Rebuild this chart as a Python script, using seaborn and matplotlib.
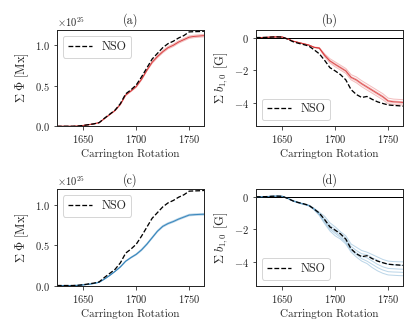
import numpy as np
import pandas as pd
import seaborn as sns
import matplotlib
matplotlib.use("Agg")
import matplotlib.pyplot as plt

# Carrington rotation grid
rotation = [1625, 1630, 1635, 1640, 1645, 1650, 1655, 1660, 1665, 1670, 1675, 1680, 1685, 1690, 1695,
            1700, 1705, 1710, 1715, 1720, 1725, 1730, 1735, 1740, 1745, 1750, 1755, 1760, 1765]

# cumulative unsigned flux [1e25 Mx]
nso_flux = [0.0, 0.0, 0.0, 0.0, 0.003, 0.01, 0.02, 0.03, 0.045, 0.10, 0.15, 0.20, 0.28, 0.40, 0.45,
            0.51, 0.61, 0.72, 0.83, 0.90, 0.97, 1.02, 1.05, 1.09, 1.12, 1.165, 1.168, 1.17, 1.175]
red_flux_1 = [0.0, 0.0, 0.0, 0.0, 0.003, 0.01, 0.02, 0.03, 0.045, 0.095, 0.145, 0.195, 0.27, 0.385, 0.435,
              0.49, 0.58, 0.69, 0.79, 0.86, 0.92, 0.97, 1.00, 1.04, 1.07, 1.10, 1.11, 1.115, 1.12]
red_flux_2 = [0.0, 0.0, 0.0, 0.0, 0.003, 0.01, 0.02, 0.03, 0.045, 0.097, 0.148, 0.198, 0.275, 0.39, 0.442,
              0.50, 0.59, 0.70, 0.805, 0.875, 0.935, 0.985, 1.015, 1.055, 1.085, 1.115, 1.125, 1.13, 1.135]
red_flux_3 = [0.0, 0.0, 0.0, 0.0, 0.003, 0.01, 0.02, 0.03, 0.045, 0.093, 0.142, 0.19, 0.265, 0.378, 0.428,
              0.48, 0.57, 0.68, 0.775, 0.845, 0.905, 0.955, 0.985, 1.025, 1.055, 1.085, 1.095, 1.10, 1.105]
blue_flux_1 = [0.0, 0.0, 0.0, 0.0, 0.002, 0.008, 0.015, 0.025, 0.04, 0.08, 0.125, 0.175, 0.23, 0.30, 0.345,
               0.385, 0.44, 0.51, 0.59, 0.67, 0.73, 0.765, 0.79, 0.82, 0.845, 0.87, 0.875, 0.878, 0.88]
blue_flux_2 = [0.0, 0.0, 0.0, 0.0, 0.002, 0.008, 0.015, 0.025, 0.04, 0.082, 0.128, 0.178, 0.235, 0.305, 0.352,
               0.393, 0.45, 0.52, 0.60, 0.68, 0.74, 0.775, 0.80, 0.83, 0.855, 0.88, 0.885, 0.888, 0.89]
blue_flux_3 = [0.0, 0.0, 0.0, 0.0, 0.002, 0.008, 0.015, 0.025, 0.04, 0.078, 0.122, 0.172, 0.225, 0.295, 0.338,
               0.377, 0.43, 0.50, 0.58, 0.66, 0.72, 0.755, 0.78, 0.81, 0.835, 0.86, 0.865, 0.868, 0.87]

# cumulative axial dipole b_{1,0} [G]
nso_b10 = [0.0, 0.0, 0.01, 0.03, 0.04, 0.03, -0.10, -0.25, -0.35, -0.43, -0.52, -0.75, -1.00, -1.40, -1.85,
           -2.05, -2.28, -2.60, -3.20, -3.50, -3.68, -3.62, -3.80, -3.95, -4.05, -4.14, -4.17, -4.19, -4.22]
red_b10_1 = [0.0, 0.0, 0.01, 0.03, 0.04, 0.03, -0.08, -0.22, -0.30, -0.38, -0.46, -0.58, -0.62, -1.00, -1.30,
             -1.50, -1.70, -1.90, -2.28, -2.42, -2.65, -2.85, -3.05, -3.25, -3.45, -3.72, -3.78, -3.80, -3.82]
red_b10_2 = [0.0, 0.0, 0.01, 0.03, 0.04, 0.03, -0.08, -0.22, -0.30, -0.38, -0.46, -0.60, -0.64, -1.06, -1.40,
             -1.60, -1.80, -2.00, -2.40, -2.55, -2.78, -2.98, -3.18, -3.38, -3.58, -3.85, -3.90, -3.92, -3.95]
red_b10_3 = [0.0, 0.0, 0.01, 0.03, 0.04, 0.03, -0.08, -0.22, -0.30, -0.38, -0.46, -0.60, -0.66, -1.12, -1.48,
             -1.70, -1.90, -2.10, -2.50, -2.67, -2.90, -3.10, -3.30, -3.50, -3.70, -3.95, -4.00, -4.02, -4.05]
red_b10_4 = [0.0, 0.0, 0.01, 0.03, 0.04, 0.03, -0.08, -0.22, -0.30, -0.38, -0.46, -0.62, -0.68, -1.18, -1.56,
             -1.80, -2.00, -2.20, -2.60, -2.78, -3.02, -3.22, -3.42, -3.62, -3.82, -4.06, -4.10, -4.12, -4.15]
blue_b10_1 = [0.0, 0.0, 0.01, 0.03, 0.04, 0.03, -0.08, -0.22, -0.33, -0.42, -0.50, -0.70, -0.95, -1.20, -1.60,
              -1.85, -2.15, -2.40, -2.90, -3.10, -3.30, -3.40, -3.55, -3.70, -3.85, -3.95, -3.98, -3.99, -4.00]
blue_b10_2 = [0.0, 0.0, 0.01, 0.03, 0.04, 0.03, -0.09, -0.24, -0.35, -0.44, -0.53, -0.74, -1.00, -1.35, -1.75,
              -2.00, -2.25, -2.55, -3.05, -3.30, -3.50, -3.55, -3.75, -3.90, -4.05, -4.15, -4.18, -4.20, -4.22]
blue_b10_3 = [0.0, 0.0, 0.01, 0.03, 0.04, 0.03, -0.09, -0.25, -0.36, -0.45, -0.54, -0.75, -1.05, -1.45, -1.90,
              -2.15, -2.40, -2.70, -3.20, -3.45, -3.65, -3.75, -3.95, -4.15, -4.30, -4.40, -4.42, -4.44, -4.45]
blue_b10_4 = [0.0, 0.0, 0.01, 0.03, 0.04, 0.03, -0.10, -0.26, -0.37, -0.46, -0.55, -0.78, -1.10, -1.55, -2.00,
              -2.25, -2.50, -2.80, -3.30, -3.55, -3.80, -3.95, -4.15, -4.35, -4.50, -4.60, -4.62, -4.63, -4.65]
blue_b10_5 = [0.0, 0.0, 0.01, 0.03, 0.04, 0.03, -0.10, -0.27, -0.38, -0.47, -0.56, -0.80, -1.15, -1.65, -2.10,
              -2.40, -2.60, -2.90, -3.40, -3.70, -3.95, -4.10, -4.35, -4.55, -4.70, -4.80, -4.82, -4.84, -4.85]


def ensemble(members):
    frames = []
    for i, m in enumerate(members):
        frames.append(pd.DataFrame({"rot": rotation, "val": m, "member": i}))
    return pd.concat(frames, ignore_index=True)


sns.set_style("ticks")
plt.rcParams["font.family"] = "serif"
plt.rcParams["font.serif"] = ["cmr10", "DejaVu Serif"]
plt.rcParams["mathtext.fontset"] = "cm"
plt.rcParams["axes.formatter.use_mathtext"] = True
plt.rcParams["font.size"] = 11
plt.rcParams["xtick.labelsize"] = 10.5
plt.rcParams["ytick.labelsize"] = 10.5
plt.rcParams["legend.fontsize"] = 12
plt.rcParams["axes.linewidth"] = 1.0
plt.rcParams["xtick.direction"] = "out"
plt.rcParams["ytick.direction"] = "out"

fig, axes = plt.subplots(2, 2, figsize=(415 / 72, 332 / 72), dpi=72)
fig.subplots_adjust(left=0.137, right=0.971, top=0.910, bottom=0.140, wspace=0.352, hspace=0.652)

panels = [
    (axes[0, 0], "(a)", nso_flux, [red_flux_1, red_flux_2, red_flux_3], "C3", "flux", True),
    (axes[0, 1], "(b)", nso_b10, [red_b10_1, red_b10_2, red_b10_3, red_b10_4], "C3", "b10", True),
    (axes[1, 0], "(c)", nso_flux, [blue_flux_1, blue_flux_2, blue_flux_3], "C0", "flux", True),
    (axes[1, 1], "(d)", nso_b10, [blue_b10_1, blue_b10_2, blue_b10_3, blue_b10_4, blue_b10_5], "C0", "b10", False),
]

for ax, title, nso, members, col, kind, show_mean in panels:
    df = ensemble(members)
    if kind == "flux":
        df["val"] = df["val"] * 1e25
        nso_vals = np.array(nso) * 1e25
    else:
        nso_vals = np.array(nso)
        ax.axhline(0, color="black", lw=1.0, zorder=1)
    sns.lineplot(data=df, x="rot", y="val", units="member", estimator=None, color=col,
                 alpha=0.3, lw=1.0, ax=ax, legend=False)
    if show_mean:
        sns.lineplot(data=df, x="rot", y="val", estimator="mean", errorbar=None, color=col,
                     alpha=0.8, lw=1.0, ax=ax, legend=False)
    sns.lineplot(x=rotation, y=nso_vals, color="black", linestyle="--", lw=1.3, ax=ax, label="NSO")
    ax.set_xlim(1625, 1764)
    ax.set_xticks([1650, 1700, 1750])
    ax.set_xlabel("Carrington Rotation")
    ax.set_title(title, fontsize=12)
    if kind == "flux":
        ax.set_ylim(0, 1.19e25)
        ax.set_yticks([0, 0.5e25, 1.0e25])
        ax.set_ylabel(r"$\Sigma\;\Phi$ [Mx]", fontsize=12.5)
        ax.legend(loc="upper left")
    else:
        ax.set_ylim(-5.45, 0.47)
        ax.set_yticks([-4, -2, 0])
        ax.set_ylabel(r"$\Sigma\;b_{1,0}$ [G]", fontsize=12.5)
        ax.legend(loc="lower left")

fig.savefig("out.png", dpi=72)
